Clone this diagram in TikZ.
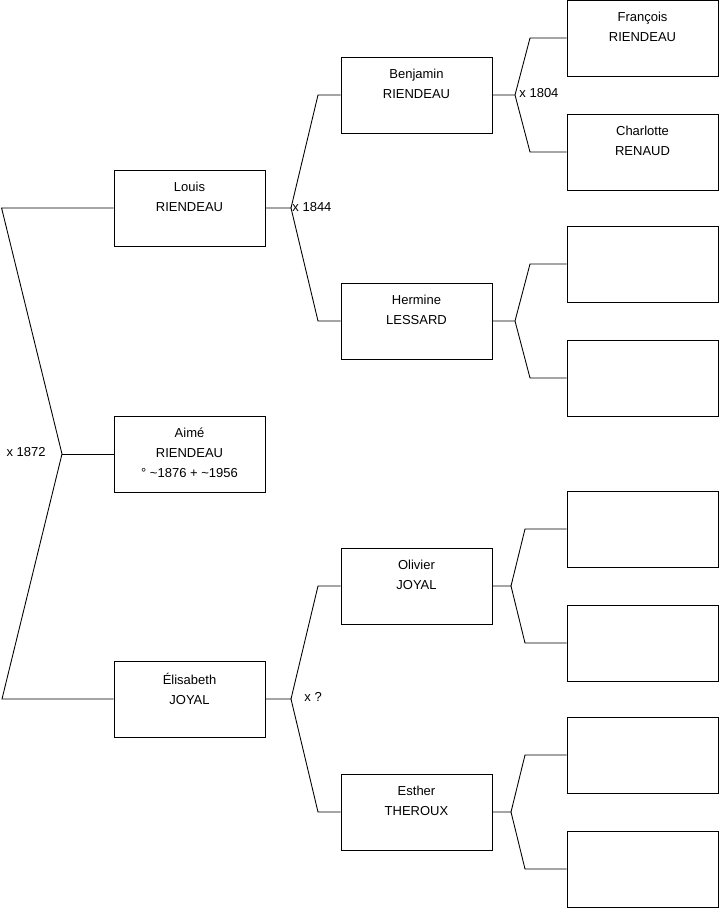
\documentclass[tikz,border=0pt]{standalone}
\usepackage{fontspec}
\setmainfont{Liberation Sans}
\usetikzlibrary{positioning}

\begin{document}
\begin{tikzpicture}[x=0.02cm, y=-0.02cm, line width=0.5pt,
    personbox/.style={draw, minimum width=3.02cm, minimum height=1.52cm, inner sep=0pt},
    persontext/.style={align=center, inner sep=0pt, font=\fontsize{7.4}{11.4}\selectfont,
        execute at begin node=\strut},
    marriage/.style={inner sep=0pt, font=\fontsize{7.4}{11.4}\selectfont}]
    % Cadre
    \useasboundingbox (0,0) rectangle (719,908);

    % Enfant et parents
    \node[personbox] (aime) at (189.5,454) {};
    \node[persontext, below=0.24cm of aime.north] (aime-t) {Aimé\\RIENDEAU\\° \textasciitilde1876 + \textasciitilde1956};
    \node[personbox] (louis) at (189.5,208) {};
    \node[persontext, below=0.24cm of louis.north] (louis-t) {Louis\\RIENDEAU};
    \node[personbox] (elisabeth) at (189.5,699) {};
    \node[persontext, below=0.24cm of elisabeth.north] (elisabeth-t) {Élisabeth\\JOYAL};

    % Grands-parents
    \node[personbox] (benjamin) at (416.5,95) {};
    \node[persontext, below=0.24cm of benjamin.north] (benjamin-t) {Benjamin\\RIENDEAU};
    \node[personbox] (hermine) at (416.5,321) {};
    \node[persontext, below=0.24cm of hermine.north] (hermine-t) {Hermine\\LESSARD};
    \node[personbox] (olivier) at (416.5,586) {};
    \node[persontext, below=0.24cm of olivier.north] (olivier-t) {Olivier\\JOYAL};
    \node[personbox] (esther) at (416.5,812) {};
    \node[persontext, below=0.24cm of esther.north] (esther-t) {Esther\\THEROUX};

    % Arrière-grands-parents
    \node[personbox] (francois) at (642.5,38) {};
    \node[persontext, below=0.24cm of francois.north] (francois-t) {François\\RIENDEAU};
    \node[personbox] (charlotte) at (642.5,152) {};
    \node[persontext, below=0.24cm of charlotte.north] (charlotte-t) {Charlotte\\RENAUD};
    \foreach \n/\y in {hfa/264, hmo/378, ofa/529, omo/643, efa/755, emo/869}
        \node[personbox] (\n) at (642.5,\y) {};

    % Liens
    \coordinate (m1) at (62,454);
    \draw (louis.west) -- ++(-112,0) -- (m1) -- ++(-60,245) -- (elisabeth.west);
    \draw (m1) -- (aime.west);
    \node[marriage, anchor=east] (x1872) at ([shift={(-16,-2)}]m1) {x 1872};

    \coordinate (m2) at (291,208);
    \draw (louis.east) -- (m2) -- ++(27,-113) -- (benjamin.west);
    \draw (m2) -- ++(27,113) -- (hermine.west);
    \node[marriage, anchor=west] (x1844) at ([shift={(1,-1)}]m2) {x 1844};

    \coordinate (m4) at (291,699);
    \draw (elisabeth.east) -- (m4) -- ++(27,-113) -- (olivier.west);
    \draw (m4) -- ++(27,113) -- (esther.west);
    \node[marriage, anchor=west] (xinc) at ([shift={(13,-2)}]m4) {x ?};

    \coordinate (m3) at (515,95);
    \draw (benjamin.east) -- (m3) -- ++(15,-57) -- (francois.west);
    \draw (m3) -- ++(15,57) -- (charlotte.west);
    \node[marriage, anchor=west] (x1804) at ([shift={(4,-2)}]m3) {x 1804};

    \coordinate (m5) at (515,321);
    \draw (hermine.east) -- (m5) -- ++(15,-57) -- (hfa.west);
    \draw (m5) -- ++(15,57) -- (hmo.west);

    \coordinate (m6) at (511,586);
    \draw (olivier.east) -- (m6) -- ++(14,-57) -- (ofa.west);
    \draw (m6) -- ++(14,57) -- (omo.west);

    \coordinate (m7) at (511,812);
    \draw (esther.east) -- (m7) -- ++(14,-57) -- (efa.west);
    \draw (m7) -- ++(14,57) -- (emo.west);
\end{tikzpicture}
\end{document}
